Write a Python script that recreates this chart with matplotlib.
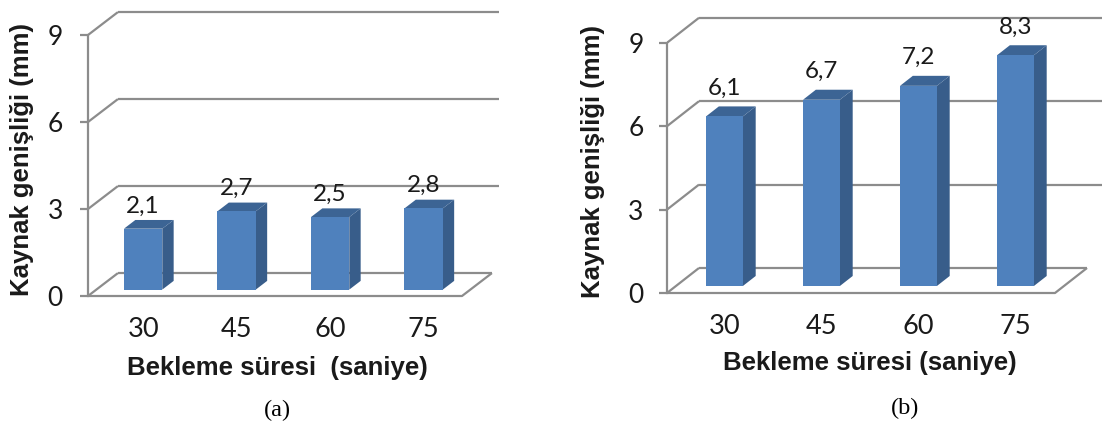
import matplotlib.pyplot as plt
from matplotlib.patches import Polygon

# data
categories = ["30", "45", "60", "75"]
values_a = [2.1, 2.7, 2.5, 2.8]
values_b = [6.1, 6.7, 7.2, 8.3]
labels_a = ["2,1", "2,7", "2,5", "2,8"]
labels_b = ["6,1", "6,7", "7,2", "8,3"]
yticks = [0, 3, 6, 9]

W, H = 1102, 423
FRONT = "#4F81BD"
SIDE = "#385D8A"
TOP = "#3C6494"
GRID = "#8C8C8C"
TXT = "#1a1a1a"


def draw_panel(fig, ox, oy, sx, sy, xmax, ymin, ymax, ddx, ddy, bw, f0, f1,
               values, labels, lab_off, ypad):
    # axes placed so that data (0, 0) sits at pixel (ox, oy)
    left = ox / W
    bottom = 1 - (oy - ymin * sy) / H
    ax = fig.add_axes([left, bottom, xmax * sx / W, (ymax - ymin) * sy / H])
    ax.set_xlim(0, xmax)
    ax.set_ylim(ymin, ymax)
    ax.patch.set_alpha(0)
    n = len(values)

    # walls and floor
    kw = dict(color=GRID, lw=1.6, solid_capstyle="butt", zorder=1)
    for v in yticks:
        ax.plot([0, ddx], [v, v + ddy], **kw)
        xend = n + ddx if v == 0 else xmax
        ax.plot([ddx, xend], [v + ddy, v + ddy], **kw)
    ax.plot([0, n, n + ddx], [0, 0, ddy], **kw)

    # 3d bars
    ex = (f1 - f0) * ddx
    ey = (f1 - f0) * ddy
    centers = []
    for i, v in enumerate(values):
        x0 = i + 0.5 - bw / 2 + f0 * ddx
        x1 = x0 + bw
        y0 = f0 * ddy
        ax.add_patch(Polygon([(x1, y0), (x1 + ex, y0 + ey), (x1 + ex, y0 + ey + v), (x1, y0 + v)],
                             closed=True, fc=SIDE, ec="none", zorder=3))
        ax.add_patch(Polygon([(x0, y0 + v), (x1, y0 + v), (x1 + ex, y0 + v + ey), (x0 + ex, y0 + v + ey)],
                             closed=True, fc=TOP, ec="none", zorder=3))
        ax.add_patch(Polygon([(x0, y0), (x1, y0), (x1, y0 + v), (x0, y0 + v)],
                             closed=True, fc=FRONT, ec="none", zorder=4))
        centers.append((x0 + x1) / 2)
        ax.text((x0 + x1) / 2, y0 + v + ey + lab_off, labels[i], ha="center", va="center",
                fontsize=17.5, family="Lato", color=TXT, zorder=5)

    # front value axis
    for s in ["top", "right", "bottom"]:
        ax.spines[s].set_visible(False)
    ax.spines["left"].set_bounds(0, 9)
    ax.spines["left"].set_color(GRID)
    ax.spines["left"].set_linewidth(1.6)
    ax.set_yticks(yticks)
    ax.set_yticklabels([str(t) for t in yticks], family="Lato", fontsize=19, color=TXT)
    ax.tick_params(axis="y", length=6, width=1.6, color=GRID, pad=ypad)
    ax.set_xticks(centers)
    ax.set_xticklabels(categories, family="Lato", fontsize=19.5, color=TXT)
    ax.tick_params(axis="x", length=0, pad=11)
    return ax


fig = plt.figure(figsize=(W / 100, H / 100), dpi=100)

draw_panel(fig, 88, 296, 93.5, 29.0, 4.4, -0.2, 10.0, 0.32, 0.79, 0.41, 0.28, 0.66,
           values_a, labels_a, 0.48, 12)
draw_panel(fig, 667, 293, 97.0, 27.8, 4.6, -0.2, 10.3, 0.33, 0.9, 0.38, 0.28, 0.68,
           values_b, labels_b, 0.65, 11)

bold = dict(family="Liberation Sans", weight="bold", fontsize=18.5, color=TXT,
            ha="center", va="center")
fig.text(277 / W, 1 - 368 / H, "Bekleme süresi  (saniye)", **bold)
fig.text(870 / W, 1 - 363 / H, "Bekleme süresi (saniye)", **bold)
fig.text(22 / W, 1 - 160 / H, "Kaynak genişliği (mm)", rotation=90, **bold)
fig.text(593 / W, 1 - 162 / H, "Kaynak genişliği (mm)", rotation=90, **bold)

serif = dict(family="Liberation Serif", fontsize=17.5, color="black", ha="center", va="center")
fig.text(277 / W, 1 - 410 / H, "(a)", **serif)
fig.text(905 / W, 1 - 408 / H, "(b)", **serif)

fig.savefig("out.png", dpi=100)
